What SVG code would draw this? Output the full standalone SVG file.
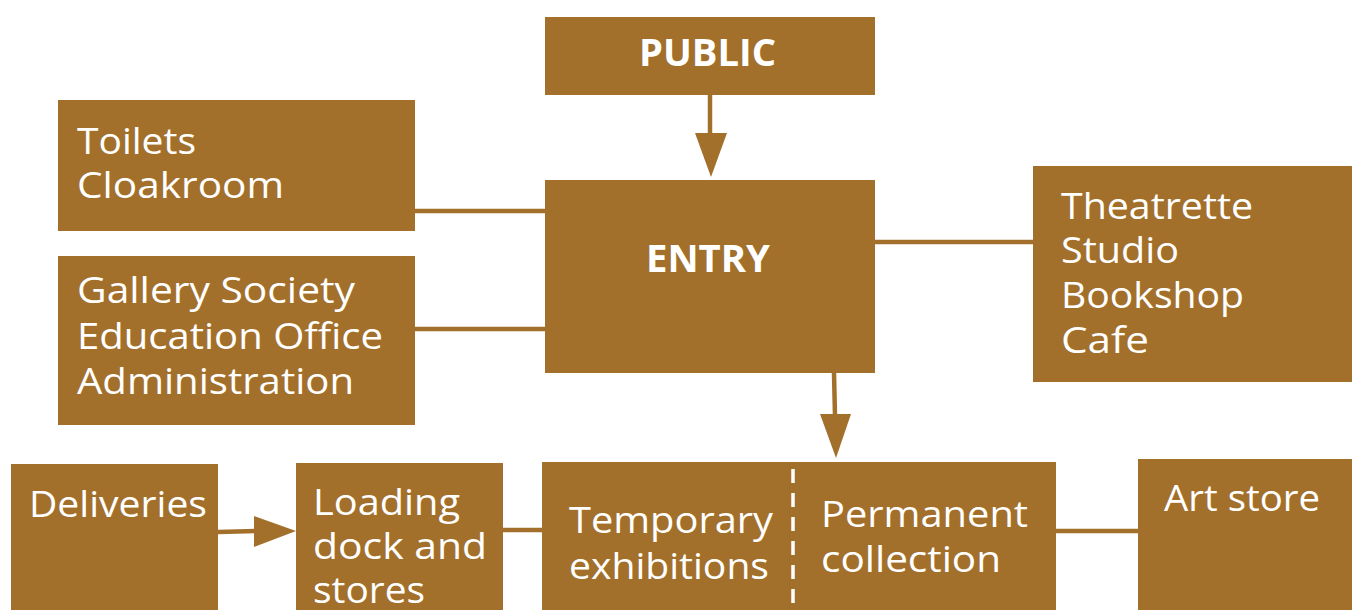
<svg xmlns="http://www.w3.org/2000/svg" width="1352" height="610" viewBox="0 0 1352 610">
<style>
.box{fill:#A3702B}
.t{font-family:"Open Sans","Liberation Sans",sans-serif;font-size:36px;fill:#ffffff;font-weight:500}
.b{font-family:"Open Sans","Liberation Sans",sans-serif;font-size:38px;fill:#ffffff;font-weight:700}
.ln{stroke:#A3702B;stroke-width:4.5;fill:none}
.ah{fill:#A3702B}
</style>
<rect width="1352" height="610" fill="#ffffff"/>
<g id="connectors">
<line class="ln" x1="710" y1="95" x2="710" y2="135"/>
<polygon class="ah" points="695,133 727,133 711,177"/>
<line class="ln" x1="415" y1="211" x2="545" y2="211"/>
<line class="ln" x1="415" y1="329" x2="545" y2="329"/>
<line class="ln" x1="875" y1="242" x2="1033" y2="242"/>
<line class="ln" x1="834" y1="373" x2="835" y2="416"/>
<polygon class="ah" points="820,414 851,414 836,458"/>
<line class="ln" x1="218" y1="532" x2="256" y2="531"/>
<polygon class="ah" points="254,516 254,547 296,531"/>
<line class="ln" x1="503" y1="530" x2="542" y2="530"/>
<line class="ln" x1="1056" y1="531" x2="1138" y2="531"/>
</g>
<g id="public">
<rect class="box" x="545" y="17" width="330" height="78"/>
<text class="b" x="639" y="66" textLength="137" lengthAdjust="spacingAndGlyphs">PUBLIC</text>
</g>
<g id="entry">
<rect class="box" x="545" y="180" width="330" height="193"/>
<text class="b" x="646" y="272" textLength="124" lengthAdjust="spacingAndGlyphs">ENTRY</text>
</g>
<g id="toilets">
<rect class="box" x="58" y="100" width="357" height="131"/>
<text class="t" x="77" y="154" textLength="119" lengthAdjust="spacingAndGlyphs">Toilets</text>
<text class="t" x="77" y="198" textLength="207" lengthAdjust="spacingAndGlyphs">Cloakroom</text>
</g>
<g id="gallery">
<rect class="box" x="58" y="256" width="357" height="169"/>
<text class="t" x="77" y="303" textLength="278" lengthAdjust="spacingAndGlyphs">Gallery Society</text>
<text class="t" x="77" y="349" textLength="306" lengthAdjust="spacingAndGlyphs">Education Office</text>
<text class="t" x="77" y="394" textLength="277" lengthAdjust="spacingAndGlyphs">Administration</text>
</g>
<g id="theatrette">
<rect class="box" x="1033" y="166" width="319" height="216"/>
<text class="t" x="1061" y="219" textLength="192" lengthAdjust="spacingAndGlyphs">Theatrette</text>
<text class="t" x="1061" y="263" textLength="118" lengthAdjust="spacingAndGlyphs">Studio</text>
<text class="t" x="1061" y="308" textLength="183" lengthAdjust="spacingAndGlyphs">Bookshop</text>
<text class="t" x="1061" y="353" textLength="88" lengthAdjust="spacingAndGlyphs">Cafe</text>
</g>
<g id="deliveries">
<rect class="box" x="11" y="464" width="207" height="146"/>
<text class="t" x="29" y="517" textLength="178" lengthAdjust="spacingAndGlyphs">Deliveries</text>
</g>
<g id="loading">
<rect class="box" x="296" y="463" width="207" height="147"/>
<text class="t" x="313" y="515" textLength="147" lengthAdjust="spacingAndGlyphs">Loading</text>
<text class="t" x="313" y="559" textLength="174" lengthAdjust="spacingAndGlyphs">dock and</text>
<text class="t" x="313" y="603" textLength="112" lengthAdjust="spacingAndGlyphs">stores</text>
</g>
<g id="exhibitions">
<rect class="box" x="542" y="462" width="514" height="148"/>
<line x1="793" y1="469" x2="793" y2="610" stroke="#ffffff" stroke-width="3.5" stroke-dasharray="14 10"/>
<text class="t" x="569" y="533" textLength="204" lengthAdjust="spacingAndGlyphs">Temporary</text>
<text class="t" x="569" y="579" textLength="200" lengthAdjust="spacingAndGlyphs">exhibitions</text>
<text class="t" x="821" y="527" textLength="207" lengthAdjust="spacingAndGlyphs">Permanent</text>
<text class="t" x="821" y="572" textLength="180" lengthAdjust="spacingAndGlyphs">collection</text>
</g>
<g id="artstore">
<rect class="box" x="1138" y="459" width="214" height="151"/>
<text class="t" x="1164" y="511" textLength="156" lengthAdjust="spacingAndGlyphs">Art store</text>
</g>
</svg>
